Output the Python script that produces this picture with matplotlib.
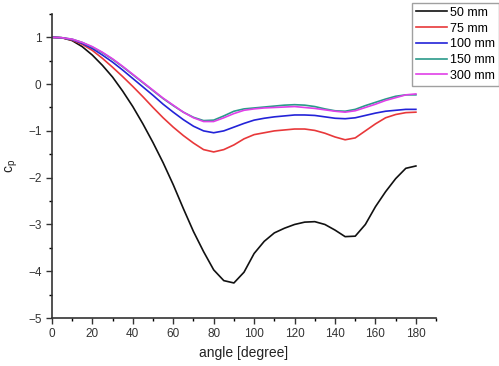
import numpy as np
import matplotlib
matplotlib.use('Agg')
import matplotlib.pyplot as plt
from matplotlib.ticker import MultipleLocator

plt.rcParams['font.family'] = ['Liberation Sans', 'DejaVu Sans']

# --- data ---
angle = np.arange(0, 181, 5)

cp_50 = [1.0, 0.99, 0.93, 0.80, 0.62, 0.40, 0.15, -0.15, -0.48, -0.85,
         -1.25, -1.68, -2.15, -2.66, -3.15, -3.58, -3.97, -4.2, -4.25, -4.02,
         -3.62, -3.36, -3.18, -3.08, -3.0, -2.95, -2.94, -3.0, -3.12, -3.26,
         -3.25, -3.0, -2.62, -2.3, -2.02, -1.8, -1.75]
cp_75 = [1.0, 0.99, 0.94, 0.85, 0.72, 0.55, 0.36, 0.16, -0.05, -0.27,
         -0.5, -0.72, -0.92, -1.1, -1.26, -1.4, -1.45, -1.4, -1.3, -1.17,
         -1.08, -1.04, -1.0, -0.98, -0.96, -0.96, -0.99, -1.05, -1.13, -1.19,
         -1.15, -1.0, -0.85, -0.72, -0.65, -0.61, -0.6]
cp_100 = [1.0, 0.99, 0.95, 0.87, 0.76, 0.62, 0.47, 0.3, 0.12, -0.06,
          -0.24, -0.43, -0.6, -0.76, -0.9, -1.0, -1.04, -1.0, -0.92, -0.84,
          -0.77, -0.73, -0.7, -0.68, -0.66, -0.66, -0.67, -0.7, -0.73, -0.74,
          -0.72, -0.67, -0.62, -0.58, -0.56, -0.54, -0.54]
cp_150 = [1.0, 0.99, 0.96, 0.89, 0.79, 0.67, 0.53, 0.37, 0.2, 0.03,
          -0.14, -0.31, -0.46, -0.6, -0.71, -0.78, -0.77, -0.68, -0.58, -0.53,
          -0.51, -0.49, -0.47, -0.45, -0.44, -0.45, -0.48, -0.53, -0.57, -0.58,
          -0.54, -0.46, -0.39, -0.32, -0.26, -0.23, -0.23]
cp_300 = [1.0, 0.99, 0.96, 0.89, 0.8, 0.68, 0.54, 0.38, 0.21, 0.04,
          -0.13, -0.3, -0.45, -0.6, -0.72, -0.8, -0.8, -0.72, -0.63, -0.56,
          -0.53, -0.51, -0.5, -0.49, -0.48, -0.5, -0.52, -0.55, -0.58, -0.6,
          -0.57, -0.5, -0.43, -0.35, -0.29, -0.23, -0.21]

labels = ['50 mm', '75 mm', '100 mm', '150 mm', '300 mm']
colors = ['#111111', '#e8383a', '#2323d8', '#2a9a8a', '#e040e8']

fig = plt.figure(figsize=(4.99, 3.66), dpi=100)
ax = fig.add_axes([0.104, 0.131, 0.77, 0.831])

for y, lab, c in zip([cp_50, cp_75, cp_100, cp_150, cp_300], labels, colors):
    ax.plot(angle, y, color=c, lw=1.2, label=lab)

ax.set_xlim(0, 190)
ax.set_ylim(-5, 1.5)
ax.xaxis.set_major_locator(MultipleLocator(20))
ax.xaxis.set_minor_locator(MultipleLocator(10))
ax.yaxis.set_major_locator(MultipleLocator(1))
ax.yaxis.set_minor_locator(MultipleLocator(0.5))
ax.set_xticks(np.arange(0, 181, 20))
ax.tick_params(which='major', direction='out', length=4, width=1, labelsize=8.5, colors='#333333')
ax.tick_params(which='minor', direction='out', length=2.5, width=1)
for s in ['top', 'right']:
    ax.spines[s].set_visible(False)
for s in ['left', 'bottom']:
    ax.spines[s].set_linewidth(1.2)
    ax.spines[s].set_color('#333333')

ax.set_xlabel('angle [degree]', fontsize=10, color='#222222')
ax.set_ylabel(r'$\mathregular{c_p}$', fontsize=10, color='#222222', labelpad=6)

leg = ax.legend(loc='upper left', bbox_to_anchor=(412 / 499, 1 - 3 / 366),
                bbox_transform=fig.transFigure, fontsize=9, frameon=True,
                fancybox=False, edgecolor='#888888', handlelength=2.5,
                handletextpad=0.25, borderpad=0.3, labelspacing=0.3,
                borderaxespad=0)
leg.get_frame().set_linewidth(1.0)

fig.savefig('out.png', dpi=100)
